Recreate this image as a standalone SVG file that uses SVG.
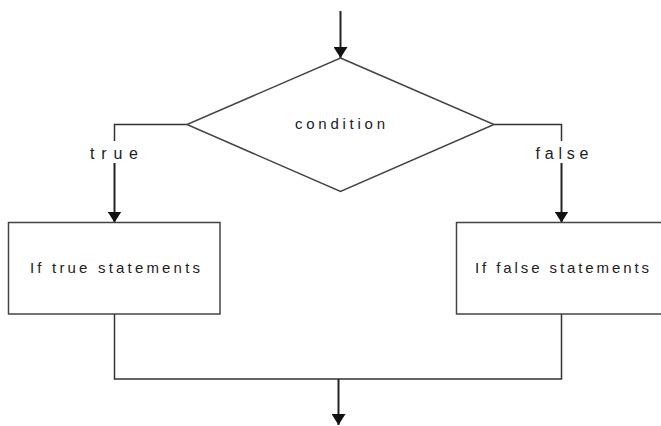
<svg xmlns="http://www.w3.org/2000/svg" width="661" height="426" viewBox="0 0 661 426">
<defs>
<marker id="arr" viewBox="0 0 11 14" refX="11" refY="7" markerWidth="11" markerHeight="14" markerUnits="userSpaceOnUse" orient="auto">
<path d="M0,0 L11,7 L0,14 Z" fill="#111"/>
</marker>
<style>
.shape{fill:#fff;stroke:#444;stroke-width:1.5}
.line{fill:none;stroke:#333;stroke-width:1.5}
.arrow{fill:none;stroke:#222;stroke-width:2;marker-end:url(#arr)}
text{font-family:"Liberation Sans","DejaVu Sans",sans-serif;font-size:15px;fill:#222}
</style>
</defs>
<rect width="661" height="426" fill="#fff"/>
<g id="connectors">
<line class="arrow" x1="340.5" y1="11" x2="340.5" y2="58"/>
<path class="line" d="M187,124.5 H114.5 V141"/>
<line class="arrow" x1="114.5" y1="163" x2="114.5" y2="222.5"/>
<path class="line" d="M494,124.5 H561.5 V141"/>
<line class="arrow" x1="561.5" y1="163" x2="561.5" y2="222.5"/>
<path class="line" d="M114.5,314 V379 H561.5 V314"/>
<line class="arrow" x1="338.5" y1="379" x2="338.5" y2="425"/>
<text x="114" y="159" textLength="48" lengthAdjust="spacing" text-anchor="middle" style="font-size:16px">true</text>
<text x="562" y="159" textLength="53" lengthAdjust="spacing" text-anchor="middle" style="font-size:16px">false</text>
</g>
<g id="condition">
<polygon class="shape" points="340.5,58 494,124.5 340.5,191.5 187,124.5"/>
<text x="295" y="129" textLength="90" lengthAdjust="spacing">condition</text>
</g>
<g id="if-true">
<rect class="shape" x="8.5" y="222.5" width="211.5" height="91.5"/>
<text x="30" y="273" textLength="170" lengthAdjust="spacing">If true statements</text>
</g>
<g id="if-false">
<rect class="shape" x="456.5" y="222.5" width="210" height="91.5"/>
<text x="475" y="273" textLength="174" lengthAdjust="spacing">If false statements</text>
</g>
</svg>
